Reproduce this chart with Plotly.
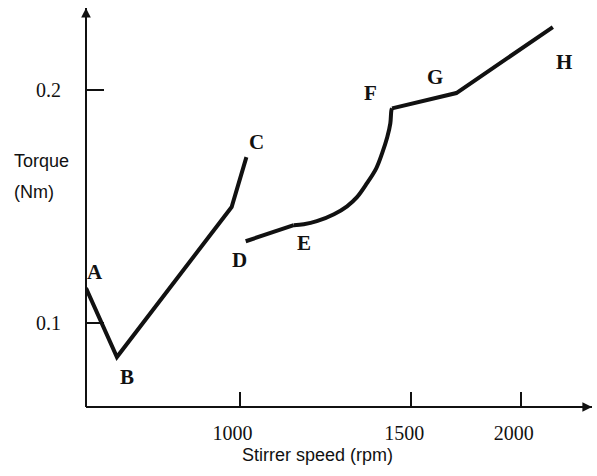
import plotly.graph_objects as go

# ---------------- data ----------------
# segment A-B-C
seg1_rpm = [553, 643, 977, 1020]
seg1_torque = [0.1150, 0.0854, 0.1498, 0.1712]
# segment D-E-F-G-H
seg2_rpm = [1018, 1158, 1187, 1225, 1275, 1313, 1342, 1371, 1398, 1415, 1430,
            1439, 1442, 1444, 1706, 2147]
seg2_torque = [0.1351, 0.1420, 0.1424, 0.1437, 0.1467, 0.1501, 0.1540, 0.1600,
               0.1664, 0.1728, 0.1797, 0.1857, 0.1912, 0.1921, 0.1987, 0.2270]

# labelled points: (label, segment, index in segment)
point_labels = ["A", "B", "C", "D", "E", "F", "G", "H"]
point_segment = [1, 1, 1, 2, 2, 2, 2, 2]
point_index = [0, 1, 3, 0, 1, 13, 14, 15]

x_tick_rpm = [1000, 1500, 2000]
x_tick_text = ["1000", "1500", "2000"]
y_tick_vals = [0.1, 0.2]
y_tick_text = ["0.1", "0.2"]

x_axis_rpm_range = [553, 2326]
y_axis_range = [0.06395, 0.2352]

x_title = "Stirrer speed (rpm)"
y_title_lines = ["Torque", "(Nm)"]

# ---------------- drawn x-scale of the original figure ----------------
# the original draws 1500->2000 shorter than 1000->1500
UPPER_COMPRESSION = 0.637


def to_axis(rpm):
    if rpm <= 1500:
        return (rpm - 1000) / 500.0
    return 1.0 + (rpm - 1500) / 500.0 * UPPER_COMPRESSION


def conv(lst):
    return [to_axis(v) for v in lst]


# label pixel offsets (style)
label_shift = {
    "A": (9, 16), "B": (10, -20), "C": (10, 15), "D": (-6, -19),
    "E": (10, -18), "F": (-22, 15), "G": (-21, 16), "H": (11, -35),
}

INK = "#111111"
line_style = dict(color=INK, width=4)

W, H = 597, 476
ML, MR, MT, MB = 86, 5, 8, 69
PW, PH = W - ML - MR, H - MT - MB


def px_x(px):
    return (px - ML) / PW


def px_y(py):
    return (H - MB - py) / PH


fig = go.Figure()
fig.add_trace(go.Scatter(x=conv(seg1_rpm), y=seg1_torque, mode="lines",
                         line=line_style, showlegend=False, hoverinfo="skip"))

# segment 2 drawn in three pieces: D-E straight, E-F curved, F-G-H straight
iE, iF = point_index[4], point_index[5]
pieces = [(0, iE + 1, "linear"), (iE, iF + 1, "spline"), (iF, len(seg2_rpm), "linear")]
for a, b, shape in pieces:
    fig.add_trace(go.Scatter(x=conv(seg2_rpm[a:b]), y=seg2_torque[a:b], mode="lines",
                             line=dict(line_style, shape=shape, smoothing=1.0),
                             showlegend=False, hoverinfo="skip"))

annotations = []
segs = {1: (seg1_rpm, seg1_torque), 2: (seg2_rpm, seg2_torque)}
for lab, s, i in zip(point_labels, point_segment, point_index):
    xs, ys = segs[s]
    dx, dy = label_shift[lab]
    annotations.append(dict(
        x=to_axis(xs[i]), y=ys[i], text="<b>%s</b>" % lab, showarrow=False,
        xshift=dx, yshift=dy,
        font=dict(family="Liberation Serif", size=21, color=INK)))

# axis arrowheads
annotations.append(dict(x=1, y=0, xref="paper", yref="paper", ax=-30, ay=0,
                        text="", showarrow=True, arrowhead=2, arrowsize=1.2,
                        arrowwidth=1.6, arrowcolor=INK))
annotations.append(dict(x=0, y=1, xref="paper", yref="paper", ax=0, ay=30,
                        text="", showarrow=True, arrowhead=2, arrowsize=1.2,
                        arrowwidth=1.6, arrowcolor=INK))

# axis titles
annotations.append(dict(x=px_x(317), y=px_y(455), xref="paper", yref="paper",
                        xanchor="center", yanchor="middle",
                        text=x_title, showarrow=False,
                        font=dict(family="Liberation Sans", size=18, color=INK)))
for k, line in enumerate(y_title_lines):
    annotations.append(dict(x=px_x(12), y=px_y(161 + 31 * k), xref="paper",
                            yref="paper", xanchor="left", yanchor="middle",
                            text=line, showarrow=False,
                            font=dict(family="Liberation Sans", size=18, color=INK)))

shapes = [
    dict(type="line", xref="paper", yref="paper", x0=0, y0=0, x1=1, y1=0,
         line=dict(color=INK, width=2)),
    dict(type="line", xref="paper", yref="paper", x0=0, y0=0, x1=0, y1=1,
         line=dict(color=INK, width=2)),
]

fig.update_layout(
    width=W, height=H,
    margin=dict(l=ML, r=MR, t=MT, b=MB),
    paper_bgcolor="white", plot_bgcolor="white",
    showlegend=False,
    annotations=annotations,
    shapes=shapes,
    xaxis=dict(range=conv(x_axis_rpm_range), tickvals=conv(x_tick_rpm),
               ticktext=x_tick_text, ticks="inside", ticklen=15, tickwidth=2,
               tickcolor=INK, showline=False,
               showgrid=False, zeroline=False, ticklabelshift=-7,
               ticklabelstandoff=12,
               tickfont=dict(family="Liberation Serif", size=20, color=INK)),
    yaxis=dict(range=y_axis_range, tickvals=y_tick_vals, ticktext=y_tick_text,
               ticks="inside", ticklen=18, tickwidth=1.5, tickcolor=INK,
               showline=False, showgrid=False,
               zeroline=False, ticklabelstandoff=24,
               tickfont=dict(family="Liberation Serif", size=20, color=INK)),
)

fig.write_html("out.html")
